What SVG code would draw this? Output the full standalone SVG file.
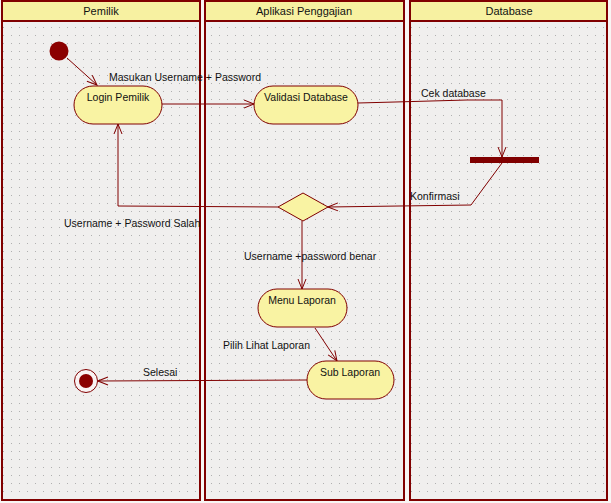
<svg xmlns="http://www.w3.org/2000/svg" width="611" height="503" viewBox="0 0 611 503">
<style>
.lane{fill:url(#dots);stroke:#800000;stroke-width:2}
.hdr{fill:#f7f1a1;stroke:#800000;stroke-width:2}
.node{fill:#f9f3a3;stroke:#800000;stroke-width:1}
.t{font-family:"Liberation Sans",Arial,sans-serif;font-size:10.5px;fill:#111}
.h{font-family:"Liberation Sans",Arial,sans-serif;font-size:11px;fill:#111}
.c{stroke:#800000;stroke-width:1;fill:none}
</style>
<defs>
<pattern id="dots" width="8" height="8" patternUnits="userSpaceOnUse">
<rect width="8" height="8" fill="#f0efee"/>
<rect x="3" y="3" width="1" height="1" fill="#b0b0b0"/>
</pattern>
<marker id="arr" markerWidth="12" markerHeight="10" refX="11" refY="5" orient="auto" markerUnits="userSpaceOnUse">
<path d="M1,1 L11,5 L1,9" fill="none" stroke="#800000" stroke-width="1"/>
</marker>
</defs>
<rect width="611" height="503" fill="#f8f6f4"/>
<g id="lanes">
<g id="lane-pemilik">
<rect class="lane" x="2" y="1" width="198" height="499"/>
<rect class="hdr" x="2" y="1" width="198" height="20"/>
<text class="h" x="101" y="15" text-anchor="middle">Pemilik</text>
</g>
<g id="lane-aplikasi">
<rect class="lane" x="205" y="1" width="199" height="499"/>
<rect class="hdr" x="205" y="1" width="199" height="20"/>
<text class="h" x="304" y="15" text-anchor="middle">Aplikasi Penggajian</text>
</g>
<g id="lane-database">
<rect class="lane" x="410" y="1" width="197" height="499"/>
<rect class="hdr" x="410" y="1" width="197" height="20"/>
<text class="h" x="509" y="15" text-anchor="middle">Database</text>
</g>
</g>
<g id="connectors">
<line class="c" x1="67" y1="58" x2="97" y2="85" marker-end="url(#arr)"/>
<line class="c" x1="162" y1="104" x2="254" y2="104" marker-end="url(#arr)"/>
<polyline class="c" points="358,103 395,102 467,100 502,100 502,157" marker-end="url(#arr)"/>
<polyline class="c" points="502,163 471,205 328,207" marker-end="url(#arr)"/>
<polyline class="c" points="278,207 118,206 118,124" marker-end="url(#arr)"/>
<line class="c" x1="302" y1="221" x2="302" y2="289" marker-end="url(#arr)"/>
<line class="c" x1="315" y1="328" x2="337" y2="361" marker-end="url(#arr)"/>
<line class="c" x1="307" y1="380" x2="98" y2="381" marker-end="url(#arr)"/>
<text class="t" x="109" y="81">Masukan Username + Password</text>
<text class="t" x="421" y="97">Cek database</text>
<text class="t" x="410" y="200">Konfirmasi</text>
<text class="t" x="64" y="227">Username + Password Salah</text>
<text class="t" x="244" y="260">Username +password benar</text>
<text class="t" x="223" y="349">Pilih Lihat Laporan</text>
<text class="t" x="143" y="376">Selesai</text>
</g>
<g id="start">
<circle cx="59" cy="51" r="9.5" fill="#8b0000"/>
</g>
<g id="login-pemilik">
<rect class="node" x="74" y="86" width="88" height="38" rx="19" ry="19"/>
<text class="t" x="118" y="101" text-anchor="middle">Login Pemilik</text>
</g>
<g id="validasi-database">
<rect class="node" x="254" y="86" width="104" height="38" rx="19" ry="19"/>
<text class="t" x="306" y="101" text-anchor="middle">Validasi Database</text>
</g>
<g id="fork">
<rect x="470" y="157" width="69" height="6" fill="#800000"/>
</g>
<g id="decision">
<polygon class="node" points="278,207 303,193 328,207 303,221"/>
</g>
<g id="menu-laporan">
<rect class="node" x="258" y="289" width="89" height="38" rx="19" ry="19"/>
<text class="t" x="302" y="304" text-anchor="middle">Menu Laporan</text>
</g>
<g id="sub-laporan">
<rect class="node" x="307" y="361" width="87" height="38" rx="19" ry="19"/>
<text class="t" x="350" y="376" text-anchor="middle">Sub Laporan</text>
</g>
<g id="end">
<circle cx="86" cy="381" r="11.5" fill="#f9f3f3" stroke="#800000" stroke-width="1"/>
<circle cx="86" cy="381" r="7" fill="#8b0000"/>
</g>
</svg>
